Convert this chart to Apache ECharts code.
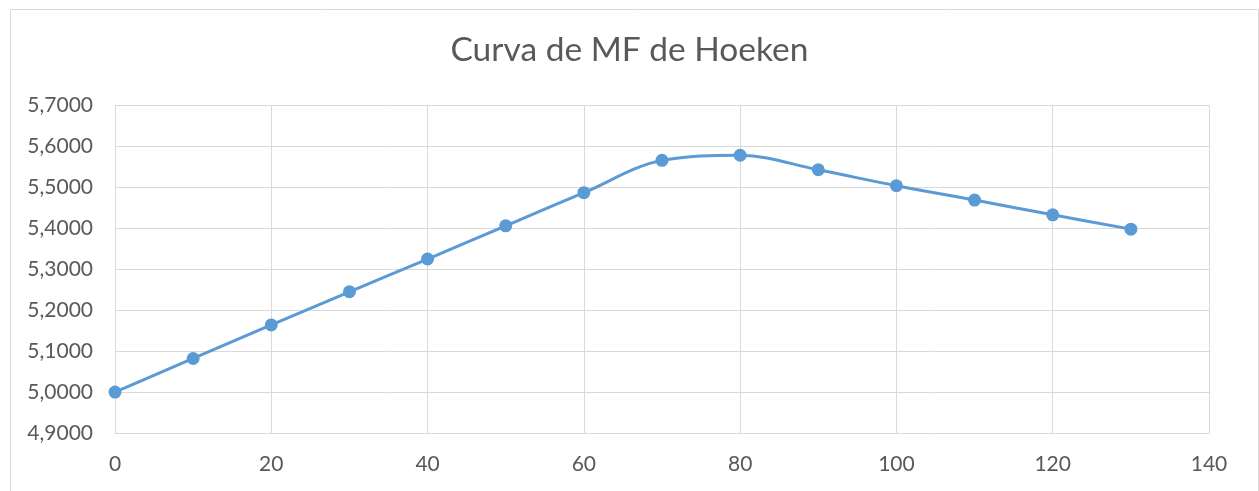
<!DOCTYPE html>
<html>
<head>
<meta charset="utf-8">
<script src="https://cdn.jsdelivr.net/npm/echarts@6/dist/echarts.min.js"></script>
<style>
  html, body { margin: 0; padding: 0; background: #ffffff; }
  #chart { width: 1259px; height: 491px; }
</style>
</head>
<body>
<div id="chart"></div>
<script>
// Curva de MF de Hoeken: x positions and MF values
const xValues = [0, 10, 20, 30, 40, 50, 60, 70, 80, 90, 100, 110, 120, 130];
const mfValues = [5.0000, 5.0820, 5.1640, 5.2450, 5.3250, 5.4060, 5.4870, 5.5660, 5.5785, 5.5430, 5.5040, 5.4690, 5.4330, 5.3980];
const chartTitle = 'Curva de MF de Hoeken';

const textColor = '#595959';
const gridColor = '#D9D9D9';
const lineColor = '#5B9BD5';
const fontFamily = 'Lato, "Open Sans", sans-serif';

const chart = echarts.init(document.getElementById('chart'), null, { renderer: 'canvas' });

chart.setOption({
  animation: false,
  backgroundColor: '#ffffff',
  graphic: [{
    type: 'rect',
    left: 8, top: 7,
    shape: { width: 1248, height: 500 },
    style: { fill: 'none', stroke: '#D9D9D9', lineWidth: 1 },
    silent: true
  }],
  title: {
    text: chartTitle,
    left: 'center',
    top: 28,
    textStyle: { color: textColor, fontFamily: fontFamily, fontSize: 33.5, fontWeight: 'normal' }
  },
  grid: { left: 115, right: 50, top: 105.5, bottom: 58, containLabel: false },
  xAxis: {
    type: 'value',
    min: 0, max: 140, interval: 20,
    axisLine: { show: true, lineStyle: { color: gridColor, width: 1 } },
    axisTick: { show: false },
    splitLine: { show: true, lineStyle: { color: gridColor, width: 1 } },
    axisLabel: { color: textColor, fontFamily: fontFamily, fontSize: 21, margin: 21 }
  },
  yAxis: {
    type: 'value',
    min: 4.9, max: 5.7, interval: 0.1,
    axisLine: { show: true, lineStyle: { color: gridColor, width: 1 } },
    axisTick: { show: false },
    splitLine: { show: true, lineStyle: { color: gridColor, width: 1 } },
    axisLabel: {
      color: textColor, fontFamily: fontFamily, fontSize: 21, margin: 22,
      formatter: v => v.toFixed(4).replace('.', ',')
    }
  },
  series: [{
    type: 'line',
    data: xValues.map((x, i) => [x, mfValues[i]]),
    smooth: 0.35,
    symbol: 'circle',
    symbolSize: 13,
    itemStyle: { color: lineColor },
    lineStyle: { color: lineColor, width: 3 }
  }]
});
</script>
</body>
</html>
